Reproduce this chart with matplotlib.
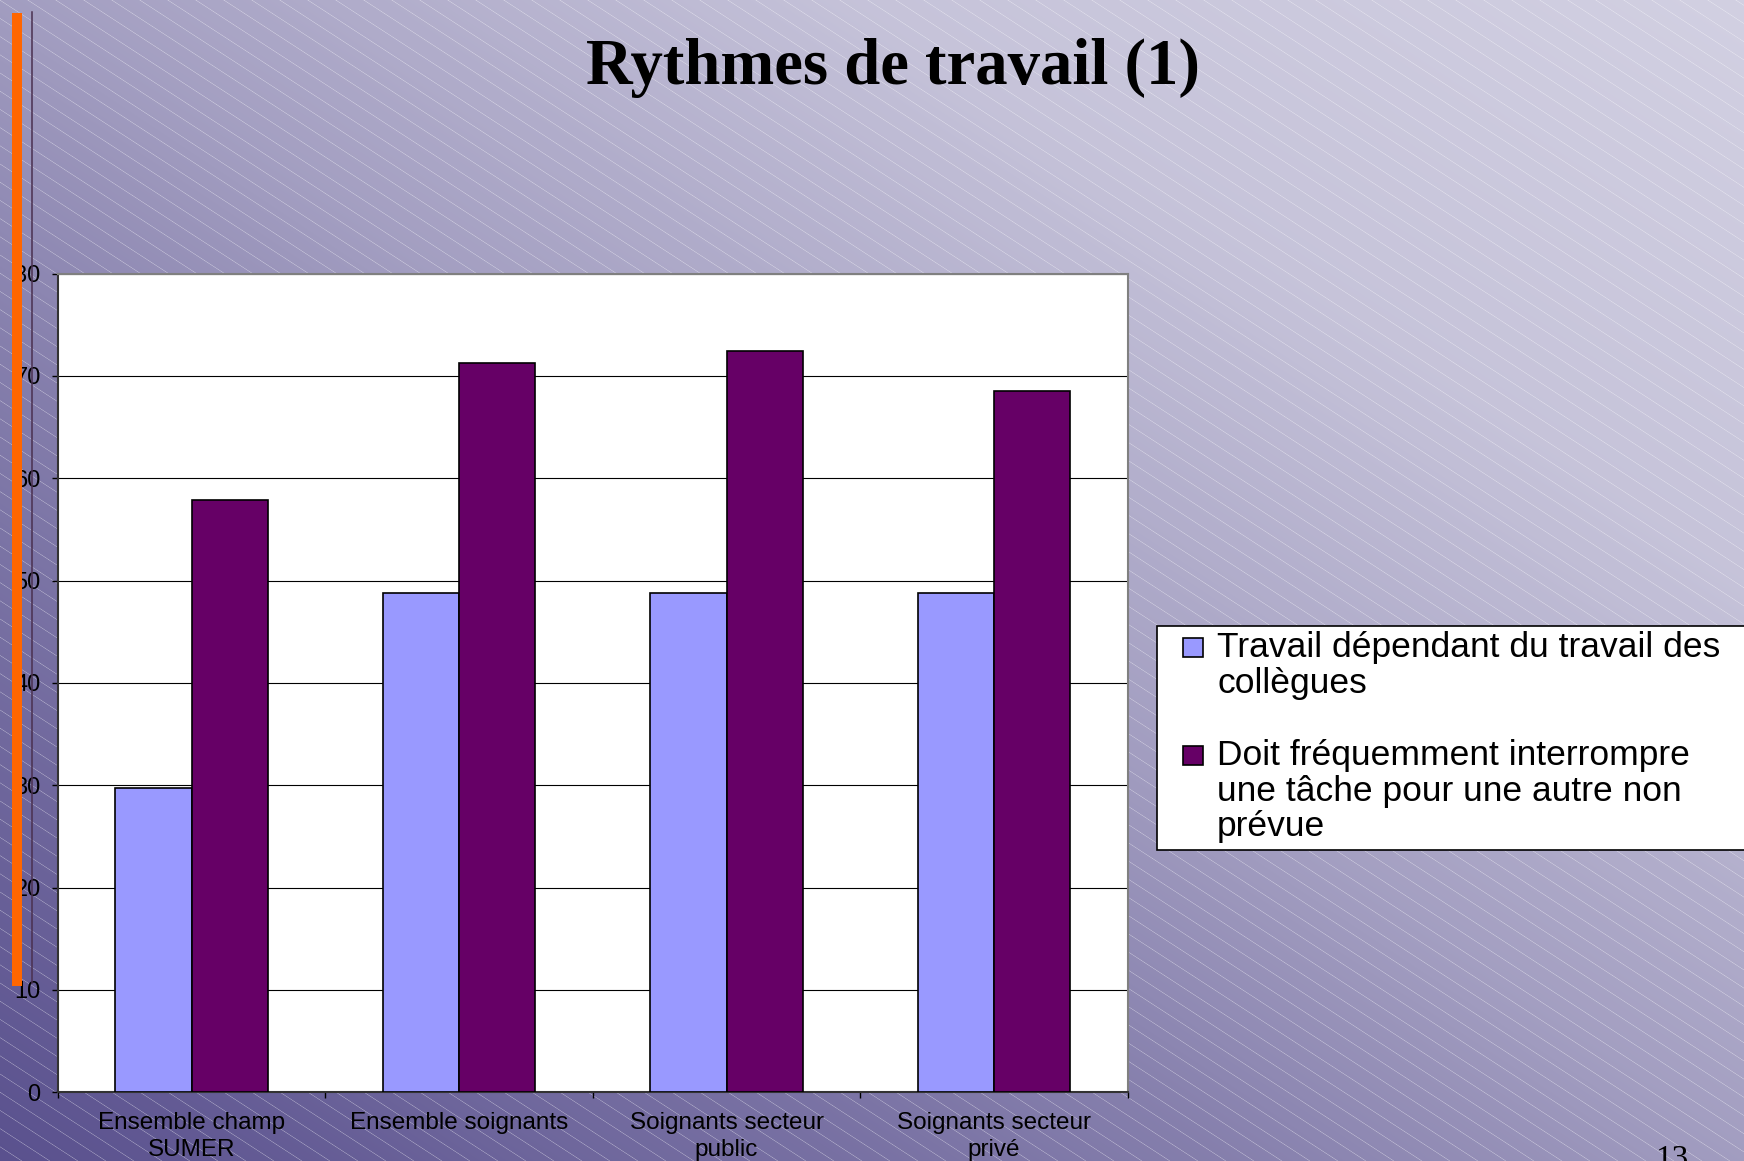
import numpy as np
import matplotlib.pyplot as plt
from matplotlib.patches import Rectangle

plt.rcParams['font.family'] = ['Liberation Sans', 'DejaVu Sans']

W, H = 1744, 1161
DPI = 100

## chart data
categories = ["Ensemble champ\nSUMER", "Ensemble soignants",
              "Soignants secteur\npublic", "Soignants secteur\nprivé"]
series_names = ["Travail dépendant du travail des\ncollègues",
                "Doit fréquemment interrompre\nune tâche pour une autre non\nprévue"]
travail_dependant = [29.7, 48.8, 48.8, 48.8]
interrompre_tache = [57.9, 71.3, 72.4, 68.5]
yticks = [0, 10, 20, 30, 40, 50, 60, 70, 80]
series_colors = ['#9999ff', '#660066']

title = "Rythmes de travail (1)"
page_number = "13"

## slide background : diagonal gradient + thin white hatch
yy, xx = np.mgrid[0:H, 0:W].astype(float)
t = 0.5 * xx / W + 0.5 * (1 - yy / H)
t = np.interp(t, [0, 0.35, 0.5, 0.75, 1], [0, 0.36, 0.6, 0.9, 1.0])
c0 = np.array([0x5a, 0x51, 0x8e]) / 255.
c1 = np.array([0xd2, 0xd0, 0xe2]) / 255.
bg = c0 + t[..., None] * (c1 - c0)

slope = 0.65
step = 28 * slope
d = (yy - slope * xx) % step
d = np.minimum(d, step - d) * np.cos(np.arctan(slope))
hatch = np.clip(1 - d / 0.7, 0, 1)[..., None] * 0.35
bg = bg * (1 - hatch) + hatch

fig = plt.figure(figsize=(W / DPI, H / DPI), dpi=DPI)
fig.figimage(bg, 0, 0, origin='upper', zorder=-1)

## bar chart
ax = fig.add_axes([57.8 / W, 1 - 1092.2 / H, (1127.8 - 57.8) / W, (1092.2 - 273.6) / H])
ax.set_facecolor('white')
x = np.arange(len(categories))
w = 1 / 3.5
ax.bar(x - w / 2, travail_dependant, w, color=series_colors[0],
       edgecolor='black', linewidth=1.2, zorder=3)
ax.bar(x + w / 2, interrompre_tache, w, color=series_colors[1],
       edgecolor='black', linewidth=1.2, zorder=3)
ax.set_xlim(-0.5, len(categories) - 0.5)
ax.set_ylim(0, 80)
ax.set_yticks(yticks)
ax.yaxis.grid(True, color='black', lw=0.8)
ax.set_axisbelow(True)

ax.set_xticks(x)
ax.set_xticklabels(categories)
ax.set_xticks(np.arange(-0.5, len(categories), 1), minor=True)
ax.tick_params(axis='x', which='major', length=0, pad=14.5, labelsize=17.5)
ax.tick_params(axis='x', which='minor', length=4.3, width=1, direction='out')
ax.tick_params(axis='y', length=4.3, width=1, pad=8, labelsize=17)
for lbl in ax.get_xticklabels():
    lbl.set_linespacing(1.25)

for side in ['left', 'bottom']:
    ax.spines[side].set_color('#333333')
    ax.spines[side].set_linewidth(1.5)
for side in ['top', 'right']:
    ax.spines[side].set_color('#808080')
    ax.spines[side].set_linewidth(1.5)

## overlay in pixel coords (y down)
ov = fig.add_axes([0, 0, 1, 1], zorder=5)
ov.set_xlim(0, W)
ov.set_ylim(H, 0)
ov.axis('off')

ov.add_patch(Rectangle((11.7, 13), 10, 973, color='#ff6600', lw=0))
ov.plot([32.3, 32.3], [12, 983], color='#4a3050', lw=1.1)

# legend
ov.add_patch(Rectangle((1157, 626), 700, 224, facecolor='white',
                       edgecolor='black', lw=1.2))
legend_baselines = [657, 765]
line_step = 35.5
for name, color, yb in zip(series_names, series_colors, legend_baselines):
    ov.add_patch(Rectangle((1183, yb - 19), 20, 19, facecolor=color,
                           edgecolor='black', lw=1.2))
    for i, part in enumerate(name.split('\n')):
        ov.text(1217, yb + i * line_step, part, fontsize=25.5, va='baseline')

ov.text(893, 84, title, ha='center', va='baseline',
        family='Liberation Serif', weight='bold', fontsize=46.5)
ov.text(1672, 1168, page_number, ha='center', va='baseline',
        family='Liberation Serif', fontsize=24)

fig.savefig('out.png', dpi=DPI)
